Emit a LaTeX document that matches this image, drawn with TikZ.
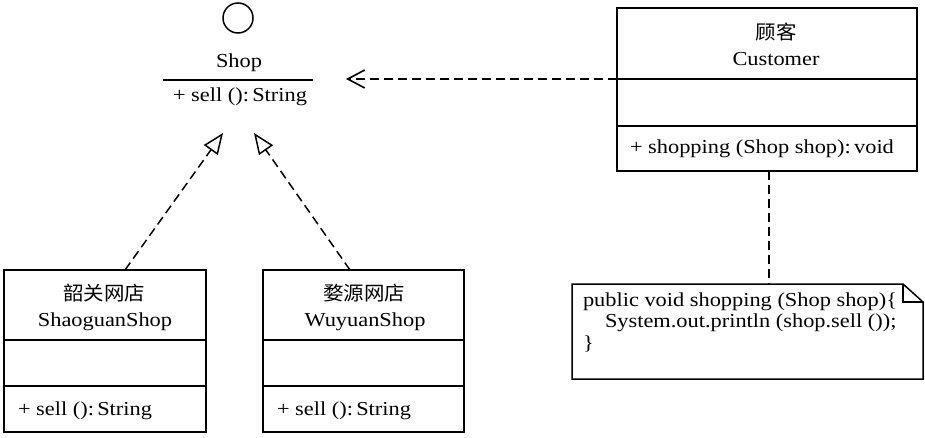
\documentclass[tikz,border=0pt]{standalone}
\usepackage{fontspec}
\setmainfont{Liberation Serif}[FakeStretch=1.13]
\newfontfamily\cjk{Noto Sans CJK SC}[FakeStretch=1.05]
\usetikzlibrary{arrows.meta,calc}
\begin{document}
\begin{tikzpicture}[x=1pt,y=-1pt,
  every node/.style={inner sep=0pt,outer sep=0pt},
  txt/.style={font=\fontsize{19.8}{21}\selectfont},
  ctxt/.style={txt,anchor=base},
  ltxt/.style={txt,anchor=base west},
  cjktxt/.style={font=\fontsize{19.5}{21}\selectfont\cjk,anchor=base},
  umlbox/.style={draw,line width=1.5pt,rectangle},
  rule/.style={line width=1.5pt},
  dashline/.style={line width=1.5pt,dash pattern=on 9pt off 5pt},
  realize/.style={dashline,-{Triangle[open,length=21pt,width=17pt,line width=1.5pt,fill=white]}},
  depend/.style={dashline,-{Straight Barb[length=17pt,width=18pt,line width=1.6pt]}}]
\useasboundingbox (0,0) rectangle (925,438);

% interface Shop
\node[draw,circle,line width=1.5pt,minimum size=30pt] (shopc) at (238,18) {};
\node[ctxt] (shopname) at (239,68) {Shop};
\coordinate (shopl) at (163,80);
\coordinate (shopr) at (313,80);
\draw[rule] (shopl) -- (shopr);
\node[ctxt] (shopop) at (240,102) {+ sell ():\,String};
\coordinate (tipL) at (223,133);
\coordinate (tipR) at (254,133);
\coordinate (tipD) at (346,79);

% Customer
\node[umlbox,minimum width=300pt,minimum height=163pt] (cust) at (767,89.5) {};
\draw[rule] (cust.west |- 0,79) -- (cust.east |- 0,79);
\draw[rule] (cust.west |- 0,126) -- (cust.east |- 0,126);
\node[cjktxt] (custcn) at (776,40) {顾客};
\node[ctxt] (custen) at (776,66) {Customer};
\node[ltxt] (custop) at (630,154) {+ shopping (Shop shop):\,void};

% ShaoguanShop
\node[umlbox,minimum width=202pt,minimum height=162pt] (sg) at (105,351) {};
\draw[rule] (sg.west |- 0,340) -- (sg.east |- 0,340);
\draw[rule] (sg.west |- 0,386) -- (sg.east |- 0,386);
\node[cjktxt] (sgcn) at (104,300) {韶关网店};
\node[ctxt] (sgen) at (105,326) {ShaoguanShop};
\node[ltxt] (sgop) at (18,415) {+ sell ():\,String};

% WuyuanShop
\node[umlbox,minimum width=201pt,minimum height=162pt] (wy) at (363.5,351) {};
\draw[rule] (wy.west |- 0,340) -- (wy.east |- 0,340);
\draw[rule] (wy.west |- 0,386) -- (wy.east |- 0,386);
\node[cjktxt] (wycn) at (364,300) {婺源网店};
\node[ctxt] (wyen) at (365,326) {WuyuanShop};
\node[ltxt] (wyop) at (277,415) {+ sell ():\,String};

% Note
\node[minimum width=351pt,minimum height=95pt] (note) at (747.5,331.5) {};
\draw[rule,line join=miter] ($(note.north east)+(-20,0)$) -- (note.north west) -- (note.south west)
  -- (note.south east) -- ($(note.north east)+(0,18)$) -- cycle;
\draw[rule] ($(note.north east)+(-20,0)$) -- ($(note.north east)+(-20,18)$) -- ($(note.north east)+(0,18)$);
\node[ltxt] (n1) at (583,306) {public void shopping (Shop shop)\{};
\node[ltxt] (n2) at (605,327.5) {System.out.println (shop.sell ());};
\node[ltxt] (n3) at (583,349) {\}};

% connectors
\draw[realize] ($(sg.north)+(20,0)$) -- (tipL);
\draw[realize] ($(wy.north)+(-13.5,0)$) -- (tipR);
\draw[depend] (cust.west |- tipD) -- (tipD);
\draw[dashline] (cust.south -| 769,0) -- (note.north -| 769,0);
\end{tikzpicture}
\end{document}
